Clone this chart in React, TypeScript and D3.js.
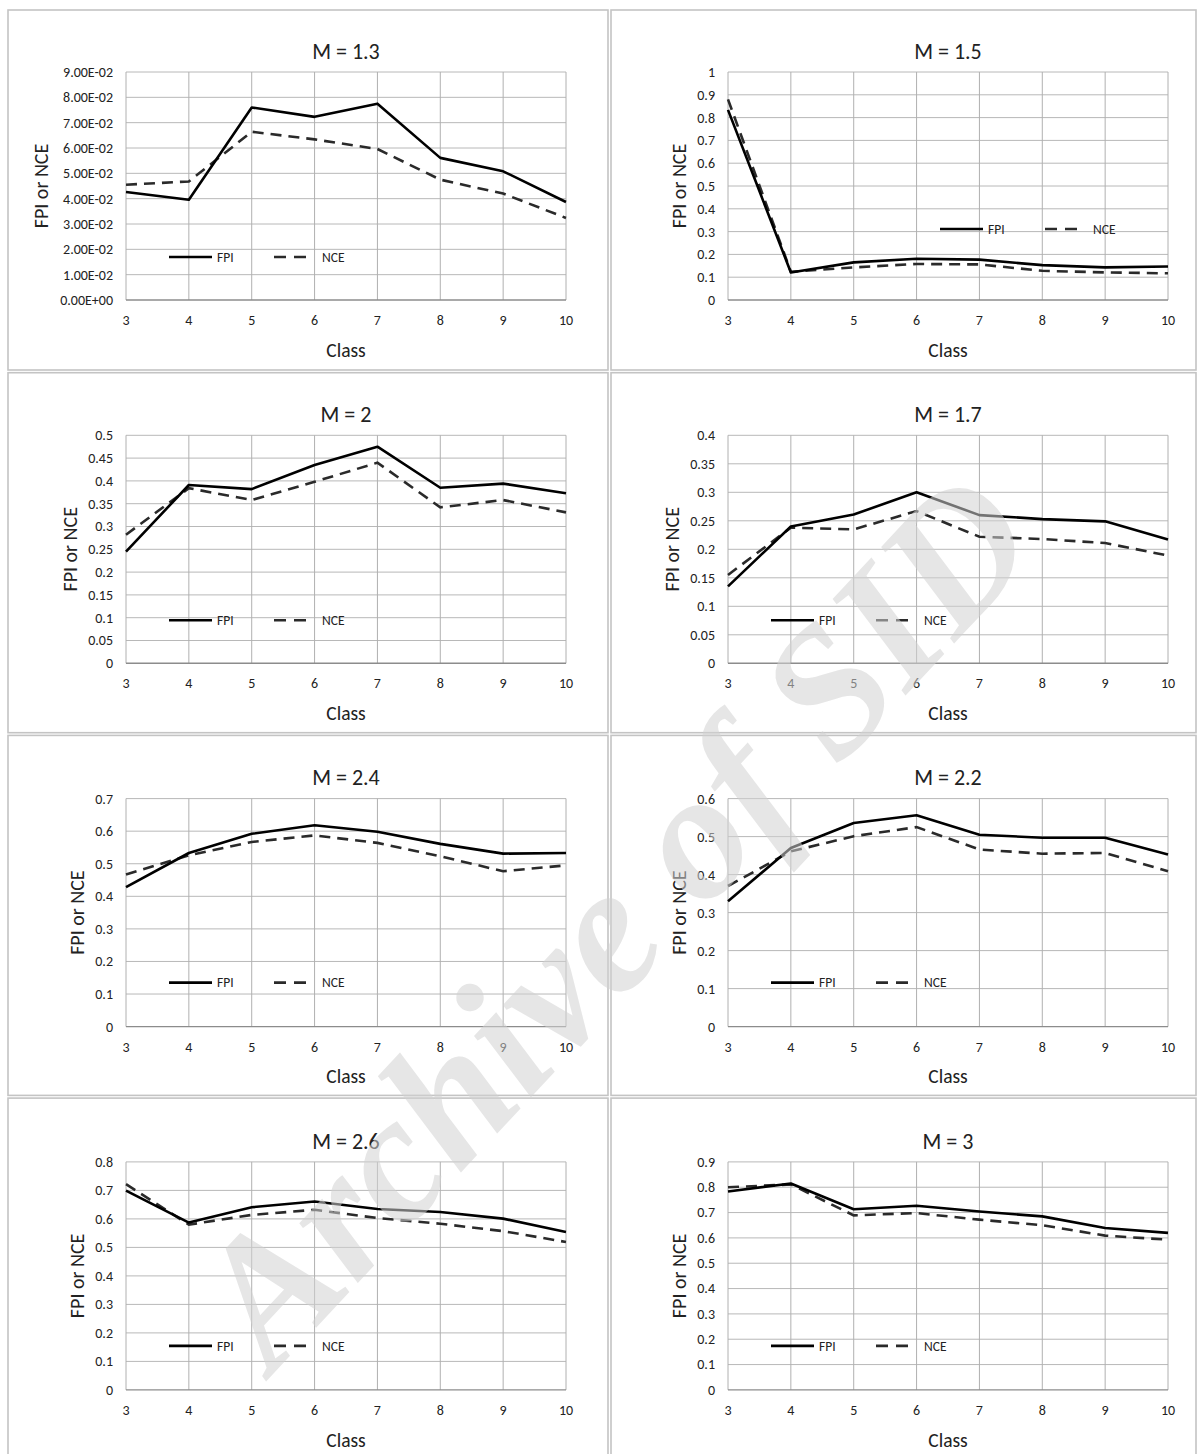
import React from "react";
import * as d3 from "d3";

// ---- data ----
const classes = [3, 4, 5, 6, 7, 8, 9, 10];
const panelTitles = ["M = 1.3", "M = 1.5", "M = 2", "M = 1.7", "M = 2.4", "M = 2.2", "M = 2.6", "M = 3"];
const yMaxes = [0.09, 1, 0.5, 0.4, 0.7, 0.6, 0.8, 0.9];
const ySteps = [0.01, 0.1, 0.05, 0.05, 0.1, 0.1, 0.1, 0.1];
const seriesNames = ["FPI", "NCE"];
const xAxisTitle = "Class";
const yAxisTitle = "FPI or NCE";
const watermarkText = "Archive of SID";

const fpiM13 = [0.0426, 0.0396, 0.076, 0.0723, 0.0775, 0.0561, 0.0508, 0.0387];
const nceM13 = [0.0455, 0.0468, 0.0664, 0.0634, 0.0596, 0.0475, 0.042, 0.0324];
const fpiM15 = [0.834, 0.121, 0.165, 0.181, 0.177, 0.153, 0.143, 0.147];
const nceM15 = [0.88, 0.124, 0.143, 0.158, 0.156, 0.128, 0.121, 0.117];
const fpiM2 = [0.245, 0.391, 0.382, 0.435, 0.475, 0.385, 0.394, 0.373];
const nceM2 = [0.282, 0.384, 0.358, 0.398, 0.44, 0.342, 0.358, 0.331];
const fpiM17 = [0.135, 0.24, 0.261, 0.3, 0.26, 0.253, 0.249, 0.217];
const nceM17 = [0.155, 0.238, 0.235, 0.267, 0.222, 0.218, 0.211, 0.189];
const fpiM24 = [0.428, 0.533, 0.592, 0.618, 0.598, 0.561, 0.531, 0.533];
const nceM24 = [0.467, 0.526, 0.567, 0.587, 0.564, 0.523, 0.477, 0.495];
const fpiM22 = [0.33, 0.47, 0.536, 0.556, 0.505, 0.497, 0.497, 0.453];
const nceM22 = [0.37, 0.461, 0.501, 0.525, 0.466, 0.455, 0.457, 0.409];
const fpiM26 = [0.699, 0.587, 0.641, 0.661, 0.635, 0.624, 0.601, 0.554];
const nceM26 = [0.722, 0.58, 0.614, 0.632, 0.603, 0.583, 0.557, 0.519];
const fpiM3 = [0.783, 0.815, 0.713, 0.727, 0.704, 0.685, 0.639, 0.62];
const nceM3 = [0.8, 0.811, 0.689, 0.698, 0.672, 0.65, 0.609, 0.593];

const fpiSeries = [fpiM13, fpiM15, fpiM2, fpiM17, fpiM24, fpiM22, fpiM26, fpiM3];
const nceSeries = [nceM13, nceM15, nceM2, nceM17, nceM24, nceM22, nceM26, nceM3];

// ---- layout ----
const W = 1198;
const H = 1454;
const FONT = "Carlito, Lato, 'Open Sans', sans-serif";
const colPlotLeft = [126, 728];
const plotWidth = 440;
const plotHeight = 228;
const rowPlotTop = (r: number) => 72 + 363.3 * r;
const colBox = [
  [8, 608],
  [611, 1196],
];
const rowBoxTop = (r: number) => 10 + 362.7 * r;
const legendDy = [185, 157, 185, 185, 184, 184, 184, 184];
const legendDx = [43, 212, 43, 43, 43, 43, 43, 43];
const DASH = "11,7";

function fmtExp(v: number) {
  if (v === 0) return "0.00E+00";
  const e = Math.floor(Math.log10(v) + 1e-9);
  const m = v / Math.pow(10, e);
  const sign = e < 0 ? "-" : "+";
  const ae = Math.abs(e);
  return m.toFixed(2) + "E" + sign + (ae < 10 ? "0" + ae : String(ae));
}
function fmtDec(v: number) {
  return String(+v.toFixed(2));
}

function Panel({ i }: { i: number }) {
  const col = i % 2;
  const row = Math.floor(i / 2);
  const left = colPlotLeft[col];
  const top = rowPlotTop(row);
  const x = d3.scaleLinear().domain([3, 10]).range([left, left + plotWidth]);
  const y = d3.scaleLinear().domain([0, yMaxes[i]]).range([top + plotHeight, top]);
  const ticks = d3.range(0, yMaxes[i] + ySteps[i] / 2, ySteps[i]);
  const fmt = i === 0 ? fmtExp : fmtDec;
  const labels = ticks.map((t) => fmt(t));
  const maxLen = d3.max(labels, (l) => l.length) || 1;
  const yTitleX = left - (27 + maxLen * 7.2);
  const line = d3
    .line<number>()
    .x((_, k) => x(classes[k]))
    .y((v) => y(v));
  const lx = left + legendDx[i];
  const ly = top + legendDy[i];
  const box = colBox[col];
  const bt = rowBoxTop(row);
  return (
    <g>
      <rect x={box[0]} y={bt} width={box[1] - box[0]} height={360} fill="#fff" stroke="#c4c4c4" strokeWidth={1.6} />
      {ticks.map((t, k) =>
        k === 0 ? null : (
          <line key={"h" + k} x1={left} x2={left + plotWidth} y1={y(t)} y2={y(t)} stroke="#b8b8b8" strokeWidth={1} />
        )
      )}
      {classes.map((c) => (
        <line key={"v" + c} x1={x(c)} x2={x(c)} y1={top} y2={top + plotHeight} stroke="#b0b0b0" strokeWidth={1} />
      ))}
      <line x1={left} x2={left + plotWidth} y1={y(0)} y2={y(0)} stroke="#8c8c8c" strokeWidth={1.4} />
      {ticks.map((t, k) => (
        <text key={"yl" + k} x={left - 13} y={y(t)} dy="0.35em" textAnchor="end" fontSize={14} fontFamily={FONT} fill="#222">
          {labels[k]}
        </text>
      ))}
      {classes.map((c) => (
        <text key={"xl" + c} x={x(c)} y={top + plotHeight + 20} dy="0.35em" textAnchor="middle" fontSize={14} fontFamily={FONT} fill="#222">
          {c}
        </text>
      ))}
      <text x={left + plotWidth / 2} y={top - 21} dy="0.35em" textAnchor="middle" fontSize={22} fontFamily={FONT} fill="#222">
        {panelTitles[i]}
      </text>
      <text x={left + plotWidth / 2} y={top + plotHeight + 50} dy="0.35em" textAnchor="middle" fontSize={19.5} fontFamily={FONT} fill="#222">
        {xAxisTitle}
      </text>
      <text
        transform={`translate(${yTitleX},${top + plotHeight / 2}) rotate(-90)`}
        dy="0.35em"
        textAnchor="middle"
        fontSize={20}
        fontFamily={FONT}
        fill="#222"
      >
        {yAxisTitle}
      </text>
      <path d={line(nceSeries[i]) || ""} fill="none" stroke="#2a2a2a" strokeWidth={2.6} strokeDasharray={DASH} />
      <path d={line(fpiSeries[i]) || ""} fill="none" stroke="#000" strokeWidth={2.6} strokeLinejoin="round" />
      <line x1={lx} x2={lx + 43} y1={ly} y2={ly} stroke="#000" strokeWidth={2.6} />
      <text x={lx + 48} y={ly} dy="0.35em" fontSize={13.5} fontFamily={FONT} fill="#222">
        {seriesNames[0]}
      </text>
      <line x1={lx + 105} x2={lx + 145} y1={ly} y2={ly} stroke="#2a2a2a" strokeWidth={2.6} strokeDasharray="12,8" />
      <text x={lx + 153} y={ly} dy="0.35em" fontSize={13.5} fontFamily={FONT} fill="#222">
        {seriesNames[1]}
      </text>
    </g>
  );
}

export default function App() {
  return (
    <svg width={W} height={H} style={{ position: "absolute", left: 0, top: 0, background: "#fff" }}>
      <rect x={0} y={0} width={W} height={H} fill="#fff" />
      {panelTitles.map((_, i) => (
        <Panel key={i} i={i} />
      ))}
      <text
        transform="translate(612,917) rotate(-47)"
        textAnchor="middle"
        dy="0.35em"
        fontSize={182}
        fontFamily="'Liberation Serif', 'DejaVu Serif', serif"
        fontWeight="bold"
        fontStyle="italic"
        fill="#d2d2d2"
        opacity={0.55}
      >
        {watermarkText}
      </text>
    </svg>
  );
}
